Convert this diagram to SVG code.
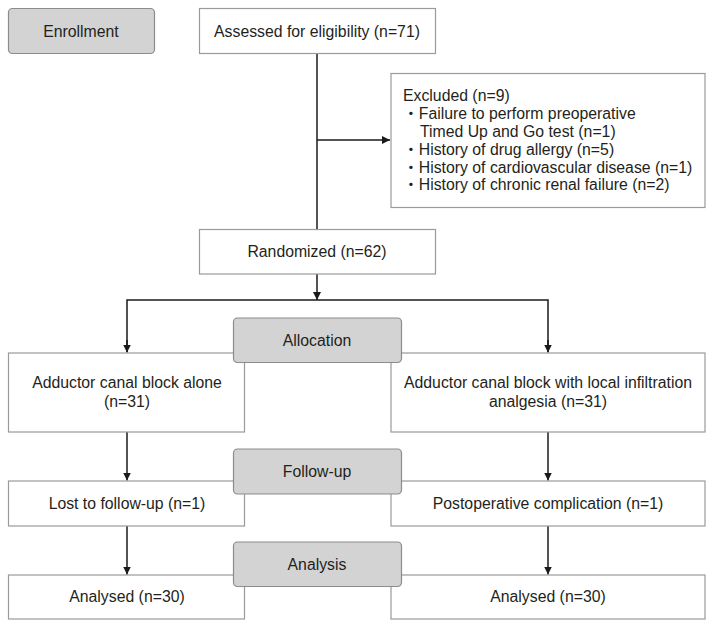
<svg xmlns="http://www.w3.org/2000/svg" width="714" height="629" viewBox="0 0 714 629">
<defs>
<style>
.box{fill:#ffffff;stroke:#9a9a9a;stroke-width:1.2}
.stage{fill:#d3d3d3;stroke:#8c8c8c;stroke-width:1.2}
text{font-family:"Liberation Sans",Arial,"Noto Sans CJK JP",sans-serif;font-size:15.8px;fill:#231f20}
.c{text-anchor:middle}
.ln{stroke:#1a1a1a;stroke-width:1.5;fill:none}
</style>
<marker id="ah" viewBox="0 0 10 10" refX="10" refY="5" markerWidth="8" markerHeight="8" markerUnits="userSpaceOnUse" orient="auto">
<path d="M0,0 L10,5 L0,10 Z" fill="#1a1a1a"/>
</marker>
</defs>
<rect width="714" height="629" fill="#ffffff"/>
<g id="connectors">
<path class="ln" d="M317,53 V229"/>
<path class="ln" d="M317,140 H390" marker-end="url(#ah)"/>
<path class="ln" d="M317,274 V300" marker-end="url(#ah)"/>
<path class="ln" d="M127,352 V300 H548 V352" />
<path class="ln" d="M127,340 V352.5" marker-end="url(#ah)"/>
<path class="ln" d="M548,340 V352.5" marker-end="url(#ah)"/>
<path class="ln" d="M127,432 V480.5" marker-end="url(#ah)"/>
<path class="ln" d="M548,432 V480.5" marker-end="url(#ah)"/>
<path class="ln" d="M127,526 V574.5" marker-end="url(#ah)"/>
<path class="ln" d="M548,526 V574.5" marker-end="url(#ah)"/>
</g>
<g id="enrollment">
<rect class="stage" x="8.5" y="8.5" width="146" height="45" rx="4"/>
<text class="c" x="81" y="36.5">Enrollment</text>
</g>
<g id="assessed">
<rect class="box" x="199.5" y="8.5" width="236" height="45"/>
<text class="c" x="317" y="36.5">Assessed for eligibility (n=71)</text>
</g>
<g id="excluded">
<rect class="box" x="391" y="73.5" width="314" height="134"/>
<text x="403" y="101">Excluded (n=9)</text>
<text x="403" y="119">・Failure to perform preoperative</text>
<text x="420" y="137">Timed Up and Go test (n=1)</text>
<text x="403" y="155">・History of drug allergy (n=5)</text>
<text x="403" y="173">・History of cardiovascular disease (n=1)</text>
<text x="403" y="190">・History of chronic renal failure (n=2)</text>
</g>
<g id="randomized">
<rect class="box" x="199.5" y="229.5" width="236" height="44.5"/>
<text class="c" x="317" y="257">Randomized (n=62)</text>
</g>
<g id="group-a">
<rect class="box" x="8.5" y="353" width="236" height="79"/>
<text class="c" x="127" y="388">Adductor canal block alone</text>
<text class="c" x="127" y="407">(n=31)</text>
</g>
<g id="group-b">
<rect class="box" x="391" y="353" width="314" height="79"/>
<text class="c" x="548" y="388">Adductor canal block with local infiltration</text>
<text class="c" x="548" y="407">analgesia (n=31)</text>
</g>
<g id="allocation">
<rect class="stage" x="233.5" y="318" width="168" height="44.5" rx="4"/>
<text class="c" x="317" y="345.5">Allocation</text>
</g>
<g id="lost">
<rect class="box" x="8.5" y="481" width="236" height="45"/>
<text class="c" x="127" y="508.5">Lost to follow-up (n=1)</text>
</g>
<g id="complication">
<rect class="box" x="391" y="481" width="314" height="45"/>
<text class="c" x="548" y="508.5">Postoperative complication (n=1)</text>
</g>
<g id="followup">
<rect class="stage" x="233.5" y="449" width="168" height="45" rx="4"/>
<text class="c" x="317" y="476.5">Follow-up</text>
</g>
<g id="analysed-a">
<rect class="box" x="8.5" y="575" width="236" height="44"/>
<text class="c" x="127" y="602">Analysed (n=30)</text>
</g>
<g id="analysed-b">
<rect class="box" x="391" y="575" width="314" height="44"/>
<text class="c" x="548" y="602">Analysed (n=30)</text>
</g>
<g id="analysis">
<rect class="stage" x="233.5" y="542" width="168" height="44.5" rx="4"/>
<text class="c" x="317" y="569.5">Analysis</text>
</g>
</svg>
